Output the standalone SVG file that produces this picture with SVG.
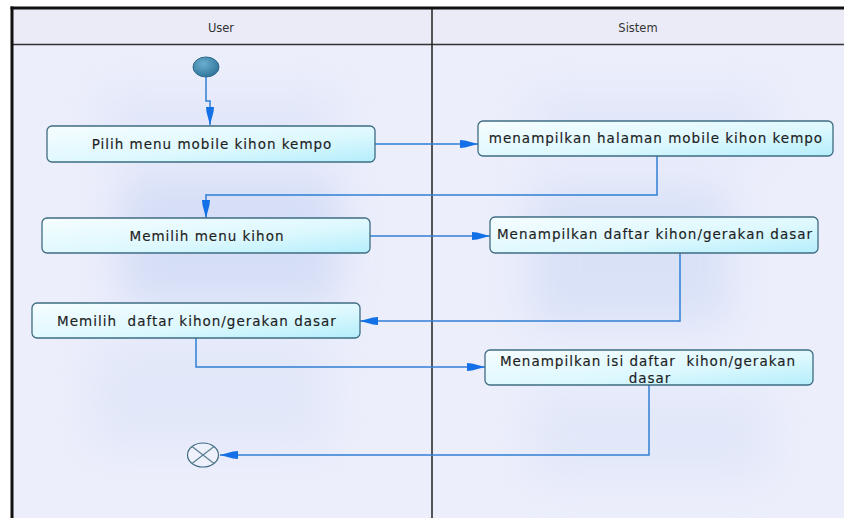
<svg xmlns="http://www.w3.org/2000/svg" width="844" height="518" viewBox="0 0 844 518">
  <style>
    .lane-title { font-family: "DejaVu Sans", Verdana, sans-serif; font-size: 11.5px; fill: #333; text-anchor: middle; }
    .label { font-family: "DejaVu Sans", Verdana, sans-serif; font-size: 13.5px; letter-spacing: 1px; fill: #1e1e1e; stroke: #1e1e1e; stroke-width: 0.15; text-anchor: middle; white-space: pre; }
    .node-box { fill: url(#nodeFill); stroke: #3f6c82; stroke-width: 1.3; }
    .conn { fill: none; stroke: #2f7fd4; stroke-width: 1.5; }
  </style>
  <defs>
    <linearGradient id="nodeFill" x1="0" y1="0" x2="1" y2="1">
      <stop offset="0" stop-color="#f6fdff"/>
      <stop offset="0.6" stop-color="#dcf8fe"/>
      <stop offset="1" stop-color="#b4eefb"/>
    </linearGradient>
    <radialGradient id="startFill" cx="0.4" cy="0.35" r="0.7">
      <stop offset="0" stop-color="#6aaed0"/>
      <stop offset="1" stop-color="#2e7299"/>
    </radialGradient>
    <filter id="blur" x="-50%" y="-50%" width="200%" height="200%">
      <feGaussianBlur stdDeviation="22"/>
    </filter>
    <marker id="arrow" viewBox="0 0 18 10" refX="18" refY="5" markerWidth="18" markerHeight="10" markerUnits="userSpaceOnUse" orient="auto">
      <path d="M0,1 L5,1.5 L18,5 L5,8.5 L0,9 Z" fill="#1470e6"/>
    </marker>
  </defs>

  <!-- background -->
  <rect x="0" y="0" width="844" height="518" fill="#ffffff"/>
  <rect x="12" y="8" width="834" height="512" fill="#eceefb"/>
  <g filter="url(#blur)" opacity="0.45">
    <rect x="120" y="175" width="220" height="130" fill="#b9cbf2"/>
    <rect x="530" y="185" width="200" height="140" fill="#c3d3f4"/>
    <rect x="100" y="95" width="240" height="50" fill="#d0dcf6"/>
    <rect x="530" y="95" width="240" height="50" fill="#d0dcf6"/>
    <rect x="90" y="340" width="240" height="110" fill="#d6e0f7"/>
    <rect x="530" y="390" width="240" height="90" fill="#d6e0f7"/>
  </g>

  <!-- header / swimlanes -->
  <g id="lanes">
    <rect x="12" y="8" width="834" height="36.5" fill="#ebebf8"/>
    <line x1="12" y1="44.5" x2="846" y2="44.5" stroke="#333" stroke-width="1.5"/>
    <line x1="432" y1="8" x2="432" y2="520" stroke="#222" stroke-width="1.5"/>
    <line x1="10.5" y1="8" x2="846" y2="8" stroke="#111" stroke-width="3"/>
    <line x1="12" y1="6.5" x2="12" y2="520" stroke="#111" stroke-width="3"/>
    <text class="lane-title" x="221" y="32">User</text>
    <text class="lane-title" x="638" y="32">Sistem</text>
  </g>

  <!-- connectors -->
  <g id="connectors">
    <path class="conn" d="M206,77 V101 H210 V125" marker-end="url(#arrow)"/>
    <path class="conn" d="M375,144 H478" marker-end="url(#arrow)"/>
    <path class="conn" d="M657,156 V195 H206 V218" marker-end="url(#arrow)"/>
    <path class="conn" d="M370,236 H490" marker-end="url(#arrow)"/>
    <path class="conn" d="M680,253 V321 H360" marker-end="url(#arrow)"/>
    <path class="conn" d="M196,338 V367 H485" marker-end="url(#arrow)"/>
    <path class="conn" d="M649,385 V455 H220" marker-end="url(#arrow)"/>
  </g>

  <!-- nodes -->
  <g id="start">
    <ellipse cx="206" cy="67" rx="13" ry="10" fill="url(#startFill)" stroke="#2d6a8c" stroke-width="1"/>
  </g>

  <g id="n1">
    <rect class="node-box" x="47" y="126" width="328" height="36" rx="5"/>
    <text class="label" x="212" y="148.5">Pilih menu mobile kihon kempo</text>
  </g>

  <g id="n2">
    <rect class="node-box" x="478" y="121" width="355" height="35" rx="5"/>
    <text class="label" x="656" y="143">menampilkan halaman mobile kihon kempo</text>
  </g>

  <g id="n3">
    <rect class="node-box" x="42" y="218" width="328" height="35" rx="5"/>
    <text class="label" x="207" y="240.5">Memilih menu kihon</text>
  </g>

  <g id="n4">
    <rect class="node-box" x="490" y="217" width="328" height="36" rx="5"/>
    <text class="label" x="655" y="239">Menampilkan daftar kihon/gerakan dasar</text>
  </g>

  <g id="n5">
    <rect class="node-box" x="32" y="303" width="328" height="35" rx="5"/>
    <text class="label" x="197" y="325.5">Memilih  daftar kihon/gerakan dasar</text>
  </g>

  <g id="n6">
    <rect class="node-box" x="485" y="350" width="328" height="35" rx="5"/>
    <text class="label" x="648" y="365.5">Menampilkan isi daftar  kihon/gerakan</text>
    <text class="label" x="650" y="382.5">dasar</text>
  </g>

  <g id="end">
    <ellipse cx="203" cy="455" rx="15.5" ry="12" fill="#eef0fb" stroke="#3f6c82" stroke-width="1.2"/>
    <line x1="192" y1="446.5" x2="214" y2="463.5" stroke="#5a7f92" stroke-width="1.2"/>
    <line x1="214" y1="446.5" x2="192" y2="463.5" stroke="#5a7f92" stroke-width="1.2"/>
  </g>
</svg>
